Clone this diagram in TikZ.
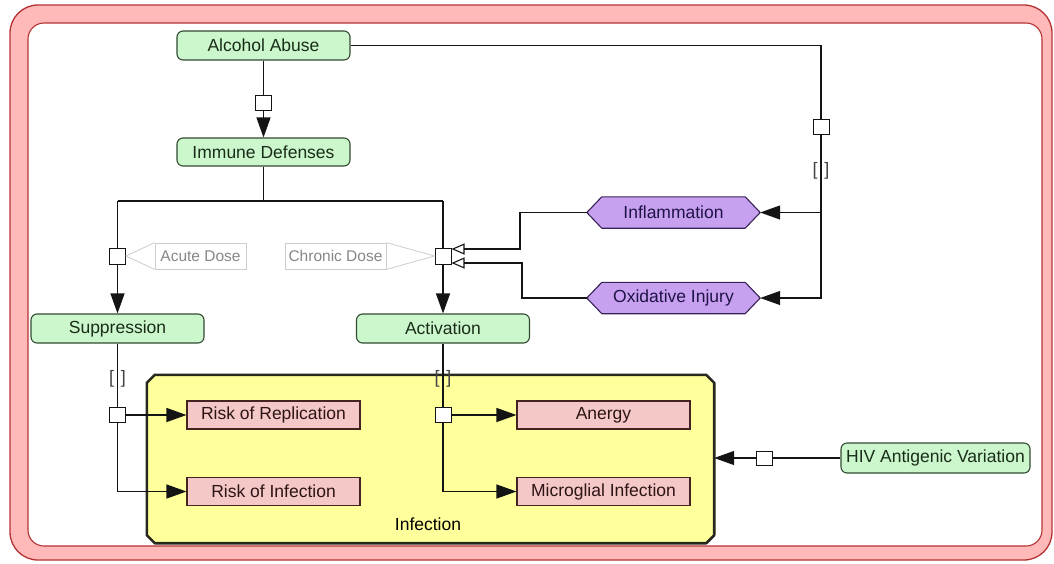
\documentclass[tikz,border=0pt]{standalone}
\usepackage{fontspec}
\setmainfont{Liberation Sans}
\usetikzlibrary{arrows.meta,calc}
\definecolor{gfill}{RGB}{204,246,204}
\definecolor{gborder}{RGB}{50,75,50}
\definecolor{gtext}{RGB}{25,45,25}
\definecolor{pfill}{RGB}{245,200,200}
\definecolor{pborder}{RGB}{70,35,35}
\definecolor{ptext}{RGB}{45,20,20}
\definecolor{hfill}{RGB}{200,160,240}
\definecolor{hborder}{RGB}{55,35,85}
\definecolor{htext}{RGB}{30,20,70}
\definecolor{yfill}{RGB}{255,255,155}
\definecolor{yborder}{RGB}{40,40,30}
\definecolor{rband}{RGB}{255,185,185}
\definecolor{rborder}{RGB}{180,50,50}
\definecolor{linec}{RGB}{20,20,20}
\definecolor{dosetext}{RGB}{135,135,135}
\definecolor{doseline}{RGB}{205,205,205}
\pgfdeclarelayer{bg}
\pgfdeclarelayer{mid}
\pgfsetlayers{bg,mid,main}
\tikzset{
  mainfont/.style={font=\fontsize{17.5}{20}\selectfont},
  gnode/.style={mainfont, draw=gborder, fill=gfill, rounded corners=6pt, minimum width=173pt, minimum height=29pt, inner sep=0pt, text=gtext, line width=1.1pt},
  pnode/.style={mainfont, draw=pborder, fill=pfill, minimum width=173pt, minimum height=28pt, inner sep=0pt, text=ptext, line width=1.1pt},
  hexnode/.style={mainfont, minimum width=173pt, minimum height=31pt, inner sep=0pt, text=htext},
  hexshape/.style={draw=hborder, fill=hfill, line width=1.1pt, line join=round},
  sqnode/.style={draw=linec, fill=white, minimum width=16pt, minimum height=15pt, inner sep=0pt, line width=1pt},
  brk/.style={inner sep=0pt, font=\fontsize{18}{18}\selectfont, text=linec!80},
  conn/.style={line width=1.2pt, draw=linec},
  arr/.style={conn, -{Triangle[length=20pt,width=14pt]}},
  oarr/.style={conn, -{Triangle[open,length=13pt,width=11pt,line width=1.1pt]}},
  dose/.style={draw=doseline, text=dosetext, minimum height=26pt, inner sep=0pt, line width=0.8pt, font=\fontsize{15.5}{18}\selectfont},
  callout/.style={draw=doseline, line width=0.8pt}
}
\begin{document}
\begin{tikzpicture}[x=1pt,y=-1pt]
\useasboundingbox (0,0) rectangle (1054,563);

% nodes
\node[gnode] (aa) at (263.5,45.5) {Alcohol Abuse};
\node[gnode, minimum height=28pt] (id) at (263.5,152) {Immune Defenses};
\node[sqnode] (sq1) at (263.5,103) {};
\node[sqnode] (sq2) at (821,127) {};
\node[brk] (br2) at (821,171) {[\hspace{7pt}]};

\node[hexnode] (inf) at (673.5,212.5) {Inflammation};
\node[hexnode] (ox) at (673.5,298) {Oxidative Injury};

\node[sqnode, minimum height=16pt] (sqA) at (117.5,256) {};
\node[sqnode, minimum height=16pt] (sqC) at (443,256) {};
\node[dose, minimum width=91pt] (acute) at (200.5,256) {Acute Dose};
\node[dose, minimum width=101pt] (chronic) at (335.5,256) {Chronic Dose};

\node[gnode] (supp) at (117.5,328.5) {Suppression};
\node[gnode] (act) at (443,328.5) {Activation};

\node[minimum width=567pt, minimum height=168pt, inner sep=0pt] (infc) at (430.5,459) {};
\node[mainfont, text=black] (inflabel) at (428,524) {Infection};

\node[brk] (brS) at (117.5,379) {[\hspace{7pt}]};
\node[brk] (brA) at (443,379) {[\hspace{7pt}]};
\node[sqnode] (sqS) at (117.5,415) {};
\node[sqnode] (sqT) at (443,415) {};

\node[pnode] (rr) at (273.5,415) {Risk of Replication};
\node[pnode] (ri) at (273.5,491.5) {Risk of Infection};
\node[pnode] (an) at (603.5,415) {Anergy};
\node[pnode] (mi) at (603.5,491.5) {Microglial Infection};

\node[gnode, minimum width=189pt, minimum height=30pt] (hiv) at (935.5,458) {HIV Antigenic Variation};
\node[sqnode, minimum height=14pt] (sqH) at (764,458) {};

% background compartments
\begin{pgfonlayer}{bg}
\draw[draw=rborder, line width=1.3pt, fill=rband, rounded corners=28pt] (10,5) rectangle (1052,560);
\draw[draw=rborder, line width=1.1pt, fill=white, rounded corners=16pt] (28,23) rectangle (1042,546);
\draw[yborder, line width=2.6pt, fill=yfill, line join=round]
  ([xshift=8pt]infc.north west) -- ([xshift=-8pt]infc.north east) --
  ([yshift=-8pt]infc.north east) -- ([yshift=8pt]infc.south east) --
  ([xshift=-8pt]infc.south east) -- ([xshift=8pt]infc.south west) --
  ([yshift=8pt]infc.south west) -- ([yshift=-8pt]infc.north west) -- cycle;
\end{pgfonlayer}

\begin{pgfonlayer}{mid}
\foreach \h in {inf,ox}{
  \draw[hexshape] (\h.west) -- ([xshift=15pt]\h.north west) -- ([xshift=-15pt]\h.north east) --
    (\h.east) -- ([xshift=-15pt]\h.south east) -- ([xshift=15pt]\h.south west) -- cycle;
}
\end{pgfonlayer}

% connectors
\draw[conn] (aa.south) -- (sq1.north);
\draw[arr] (sq1.south) -- (id.north);

\coordinate (r1) at (821,45.5);
\coordinate (r2) at (821,212.5);
\coordinate (r3) at (821,298);
\draw[conn] (aa.east) -- (r1) -- (sq2.north);
\draw[conn] (sq2.south) -- (r2);
\draw[arr] (r2) -- (inf.east);
\draw[arr] (r2) -- (r3) -- (ox.east);

\coordinate (j) at (263.5,201);
\coordinate (jl) at (117.5,201);
\coordinate (jr) at (443,201);
\draw[conn] (id.south) -- (j);
\draw[conn] (jl) -- (jr);
\draw[conn] (jl) -- (sqA.north);
\draw[conn] (jr) -- (sqC.north);
\draw[arr] (sqA.south) -- (supp.north);
\draw[arr] (sqC.south) -- (act.north);

\coordinate (k1) at (520,212.5);
\coordinate (k2) at (520,249);
\coordinate (k3) at (522,298);
\coordinate (k4) at (522,263);
\draw[oarr] (inf.west) -- (k1) -- (k2) -- (sqC.east |- k2);
\draw[oarr] (ox.west) -- (k3) -- (k4) -- (sqC.east |- k4);

\draw[callout] (acute.north west) -- (sqA.east) -- (acute.south west);
\draw[callout] (chronic.north east) -- (sqC.west) -- (chronic.south east);

\draw[conn] (supp.south) -- (sqS.north);
\draw[arr] (sqS.east) -- (rr.west);
\draw[arr] (sqS.south) |- (ri.west);

\draw[conn] (act.south) -- (sqT.north);
\draw[arr] (sqT.east) -- (an.west);
\draw[arr] (sqT.south) |- (mi.west);

\draw[conn] (hiv.west) -- (sqH.east);
\draw[arr] (sqH.west) -- (infc.east |- sqH.west);
\end{tikzpicture}
\end{document}
